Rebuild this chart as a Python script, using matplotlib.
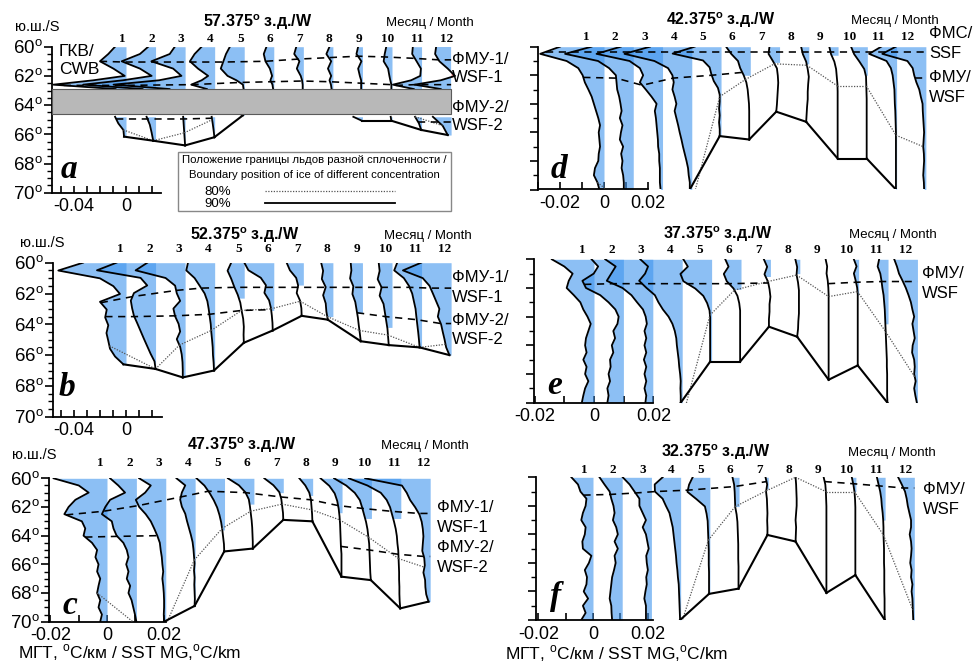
import numpy as np
import matplotlib.pyplot as plt
from matplotlib import transforms, font_manager
from matplotlib.patches import Rectangle
from matplotlib.lines import Line2D

plt.rcParams['font.family'] = ['Liberation Sans', 'DejaVu Sans']
plt.rcParams['mathtext.fontset'] = 'custom'
plt.rcParams['mathtext.rm'] = 'Liberation Sans'
plt.rcParams['mathtext.bf'] = 'Liberation Sans:bold'

nan = np.nan
months = list(range(1, 13))

# ---------------- data: SST meridional gradient, 1e-3 degC/km ----------------
# panel a (57.375 W): upper part 60..62.9 on a_top_lat, lower part below the gap
a_top_lat = [60, 60.5, 61, 61.5, 62, 62.3, 62.6, 62.9]
a_top = [[-8.4, -13.6, -20.0, -9.7, -1.0, -25.0, -55.8, -8.0],
         [-5.6, -12.0, -26.0, -12.0, -3.0, -25.0, -55.6, -10.0],
         [-7.9, -11.8, -25.9, -9.2, -2.8, -20.0, -55.0, -12.0],
         [-10.0, -15.4, -19.0, -12.8, -5.0, -10.0, -18.0, -6.0],
         [-11.0, -14.0, -16.0, -18.0, -12.8, -6.0, -1.0, -0.5],
         [-5.6, -7.7, -6.4, -3.0, -1.3, -2.6, -1.0, -0.5],
         [-5.4, -7.0, -3.0, -5.0, -2.0, -1.0, -0.5, -0.5],
         [-2.6, -5.0, -1.3, -3.8, -1.3, -2.6, -1.5, -1.0],
         [-3.3, -4.6, -0.8, -3.3, -2.0, -1.0, -1.0, -1.0],
         [-4.4, -5.6, -6.4, -3.0, -2.0, -1.3, -0.5, -0.5],
         [-6.7, -7.2, -3.8, -0.5, -1.0, -8.0, -22.0, -6.0],
         [-11.5, -12.3, -9.0, -2.6, 3.0, -8.0, -28.0, -8.0]]
a_low = [[-8.4, -5.9, -2.0, -1.5], [-6.9, -4.4, -3.0, -1.8], [-1.5, -1.0, -0.5, 0.0],
         [-2.3, -1.5, -0.8, -0.2], [-3.0, -1.0], None, None, None,
         [-7.0, -0.5], [-1.0, -0.5], [-5.0, -2.0, -0.3], [-14.0, -6.4, -2.6]]
a_low_start = [64.8, 64.8, 64.8, 64.8, 64.62, nan, nan, nan, 64.8, 64.8, 64.8, 64.8]
a_edge = [66.16, 66.44, 66.76, 66.2, 64.7, nan, nan, nan, 65.07, 65.07, 65.7, 66.05]
a_ice80 = [65.7, 66.44, 65.9, 65.0, nan, nan, nan, nan, nan, nan, 64.8, 65.4]
a_f1 = [61.0, 61.05, 61.05, 61.05, 61.05, 61.0, 60.85, 60.75, 60.65, 60.7, 60.8, 60.9]
a_f2 = [62.65, 62.65, 62.65, 62.6, 62.45, 62.4, 62.35, 62.4, 62.5, 62.6, 62.65, 62.6]
a_f3 = [64.95, 64.95, 64.95, 64.9, nan, nan, nan, nan, nan, nan, 65.15, 65.15]
a_gap = (62.92, 64.61)

# panel b (52.375 W): profiles from 60 to the 90 % ice edge
b_mg = [[-33, -52, -20, -9.7, -4.6, -20, -14.8, -16, -13.6, -15, -13.6, -12.3, -8.4, -2.0],
        [-30, -45, -11.5, -6.4, -16.6, -19, -18, -16.6, -14, -11.5, -9, -6.4, -3.8, -0.8, 0],
        [-29, -38, -15, -7.7, -6.4, -3.8, -9, -7.7, -5, -3.8, -6.4, -3.8, -2.6, -2, -1.8, -1.8],
        [-20.5, -21.8, -15.4, -11.5, -7.7, -5.6, -4.6, -3.8, -3, -2.6, -2, -1.5, -1.3, -0.8, -0.5],
        [-10, -12.8, -10, -7.7, -5, -3, -2, -0.8, -0.3, -0.5, -0.3],
        [-22.6, -19.5, -10, -6, -7.2, -3.6, -2.2, -1.5, -1, -0.8],
        [-12.8, -10.3, -5.5, -4, -5.1, -2.5, -1.5, -1.3],
        [-9, -7.5, -8.5, -5.5, -7.5, -5.5, -5, -3.9],
        [-9, -8.5, -9.5, -7, -7.7, -5.5, -4.5, -3.5, -2.8, -2, -1.3],
        [-10.2, -9.5, -11, -8, -9.5, -6.5, -5.5, -4.5, -3.5, -3, -2.5],
        [-18.7, -21, -13.6, -9.7, -7.2, -5.9, -4.6, -4, -3.3, -2.6, -2, -1.5],
        [-23, -37, -21.8, -16.6, -14, -11.5, -9, -10.2, -7.7, -6.4, -5, -3.8, -1.3]]
b_edge = [66.6, 66.9, 67.45, 67.0, 65.2, 64.4, 63.45, 63.7, 65.1, 65.35, 65.5, 66.0]
b_fill = [66.6, 66.9, 67.45, 67.0, 62.3, 63.1, 61.45, 63.5, 63.3, 64.2, 65.5, 66.0]
b_ice80 = [65.4, 66.9, 65.35, 64.4, 63.1, 63.0, 62.5, 63.5, 64.4, 64.7, 65.5, 65.3]
b_f1 = [62.6, 62.2, 61.8, 61.65, 61.6, 61.6, 61.6, 61.6, 61.6, 61.6, 61.6, 61.65]
b_f2 = [63.5, 63.5, 63.45, 63.35, 63.1, 63.05, nan, nan, 63.25, 63.5, 63.7, 63.95]

# panel c (47.375 W)
c_mg = [[-18.9, -10.0, -6.5, -11.2, -13.6, -15.1, -8.9, -7.7, -8.3, -5.3, -3.5, -4.1, -3.0, -3.5, -2.4, -3.0, -3.5, -2.4, -3.0, -1.8, -2.4],
        [-9.3, -6.4, -4.0, -9.3, -11.0, -12.2, -8.7, -8.1, -7.0, -4.6, -3.4, -2.8, -3.6, -2.8, -3.4, -2.2, -2.8, -1.7, -1.1, -0.5, 0.0],
        [-9.4, -5.3, -7.3, -10.6, -9.4, -7.1, -5.3, -4.1, -3.0, -2.1, -1.8, -1.4, -1.2, -0.9, -1.2, -0.9, -0.7, -0.6, -0.6, -0.7, -0.6],
        [-6.6, -3.5, -4.7, -5.3, -4.7, -3.5, -2.9, -2.2, -1.5, -0.9, -0.6, -0.4, -0.2, -0.4, -0.2, -0.3, -0.2, -0.1, -0.2],
        [-9.9, -7.1, -5.3, -3.8, -2.6, -1.8, -1.2, -0.8, -0.5, -0.2, -0.1],
        [-9.2, -5.3, -3.0, -1.8, -1.4, -1.1, -0.8, -0.6, -0.5, -0.4, -0.4],
        [-6.7, -3.5, -1.4, -0.7, -0.4, -0.1, 0.0],
        [-4.7, -2.6, -1.2, -0.6, -0.4, -0.2, -0.1],
        [-7.6, -4.5, -2.6, -1.7, -1.2, -0.9, -0.7, -0.6, -0.5, -0.4, -0.2, -0.2, -0.2, -0.2],
        [-13.2, -8.9, -5.9, -4.1, -3.3, -2.6, -1.9, -1.4, -1.1, -0.8, -0.7, -0.6, -0.5, -0.4, -0.2],
        [-18.4, -11.8, -7.1, -5.0, -3.8, -3.1, -2.4, -1.8, -1.4, -1.2, -0.9, -0.8, -0.7, -0.6, -0.6, -0.5, -0.5, -0.4, -0.2],
        [-23.0, -10.0, -8.3, -7.1, -5.3, -3.8, -3.0, -2.6, -2.4, -2.6, -2.8, -2.1, -1.9, -2.4, -1.8, -1.7, -1.4, -0.6]]
c_edge = [70, 70, 70, 68.9, 65.1, 64.9, 62.9, 63.0, 66.86, 67.1, 69.07, 68.6]
c_fill = [70, 70, 70, 68.9, 63.6, 61.8, 61.0, 61.2, 62.4, 62.8, 62.8, 68.6]
c_ice80 = [68.0, 70.2, 70.5, 65.7, 63.5, 62.3, 61.8, 62.2, 62.9, 64.1, 65.6, 66.2]
c_f1 = [62.55, 62.3, 61.9, 61.3, 60.9, 61.0, 61.3, 61.5, 61.9, 62.1, 62.3, 62.45]
c_f2 = [64.1, 64.05, 64.0, nan, nan, nan, nan, nan, 64.75, 65.0, 65.3, 65.45]

# panel d (42.375 W)
d_mg = [[-20, -29, -17, -11.7, -9.7, -8.7, -7.1, -5.6, -4.6, -3.6, -2.6, -1.8, -2.4, -2.1, -1.8, -2.4, -2.6, -4.1, -4.6, -3.0, -2.1],
        [-19, -31, -16, -11, -7.9, -7.6, -7.3, -6.4, -5.8, -5.3, -6.1, -4.9, -5.6, -6.1, -4.6, -5.5, -4.9, -5.3, -4.6, -4.3, -4.3],
        [-19, -30, -15, -10.3, -8.8, -10.3, -7.6, -5.0, -2.7, -3.5, -3.0, -2.7, -2.4, -2.1, -2.0, -1.5, -1.5, -1.2, -1.2, -1.2, -0.9],
        [-19, -30.6, -17, -10.8, -8.8, -8.2, -8.8, -7.8, -7.0, -7.8, -7.0, -6.2, -5.5, -4.7, -4.0, -3.2, -2.4, -1.7, -1.4, -0.9, -0.9],
        [-12, -22, -8.2, -5.2, -4.4, -3.3, -1.4, -0.6, -0.6, -0.9, -0.6, -0.9, -0.6, -0.6],
        [-11, -8.7, -5.6, -4.6, -3.0, -1.8, -1.2, -0.9, -0.6, -0.5, -0.5, -0.5, -0.5, -0.5],
        [-4.6, -5.0, -3.0, -1.2, -0.8, -0.6, -0.8, -1.0, -1.2, -1.5],
        [-3.5, -2.7, -1.2, -0.5, 0, -0.3, -0.5, -0.5, -0.8, -1.0, -1.2],
        [-4.0, -3.2, -1.7, -0.9, -0.6, -0.3, -0.2, -0.2, -0.2, -0.2, -0.2, -0.2, -0.2, -0.2, -0.2, -0.2],
        [-7.4, -6.0, -3.6, -1.4, -0.6, -0.5, -0.4, -0.3, -0.3, -0.3, -0.3, -0.3, -0.3, -0.3, -0.3, -0.3],
        [-7.0, -12.5, -4.6, -2.6, -1.8, -1.4, -1.0, -0.9, -0.8, -0.6, -0.5, -0.4, -0.3, -0.3, -0.3, -0.3, -0.3, -0.3, -0.3, -0.3, -0.3],
        [-13.7, -19.8, -8.4, -6.0, -5.3, -4.3, -3.0, -2.3, -1.5, -1.4, -1.2, -1.0, -0.8, -1.0, -1.2, -0.9, -0.8, -1.0, -1.2, -0.9, -0.8]]
d_edge = [70, 70, 70, 70, 66.26, 66.5, 64.55, 65.26, 67.83, 67.83, 70, 70]
d_fill = [70, 70, 70, 70, 66.26, 62.0, 61.1, 61.2, 60.6, 62.0, 70, 70]
d_ice80 = [69.5, 71, 72, 71.5, 63.5, 62.3, 61.2, 61.3, 62.75, 62.75, 66.2, 67.0]
d_f1 = [60.35] * 12
d_f2 = [62.15, 62.2, 62.7, 62.2, 62.0, 61.8, nan, nan, nan, nan, nan, 62.2]

# panel e (37.375 W)
e_mg = [[-14.2, -10.0, -7.2, -8.5, -9.2, -6.8, -4.6, -3.6, -2.2, -1.1, -1.9, -2.7, -3.0, -2.5, -3.6, -2.5, -3.0, -1.9, -3.0, -3.6, -4.1],
        [-10.7, -8.5, -10.0, -13.8, -12.6, -7.8, -5.0, -2.7, -1.6, -2.0, -3.4, -2.8, -3.9, -3.4, -4.5, -4.3, -5.0, -4.5, -5.4, -5.0, -5.4],
        [-16.0, -12.5, -14.0, -15.5, -10.2, -7.2, -5.3, -3.3, -2.4, -2.0, -2.8, -2.2, -2.8, -2.2, -3.0, -2.2, -2.8, -2.2, -2.8, -2.2, -2.5],
        [-14.1, -11.5, -12.5, -14.5, -12.0, -9.2, -8.0, -6.5, -4.6, -3.3, -2.5, -2.0, -1.8, -1.5, -1.2, -1.0, -0.7, -0.5, -0.6, -0.5, -0.5],
        [-9.5, -8.0, -10.5, -9.5, -5.5, -2.8, -1.5, -0.7, -0.5, -0.5, -0.5, -0.5, -0.5, -0.5, -0.5],
        [-5.3, -4.2, -5.8, -4.8, -2.5, -1.2, -0.6, -0.3, -0.3, -0.3, -0.3, -0.3, -0.3, -0.3, -0.3],
        [-2.2, -1.1, -2.0, -0.8, -0.3, 0.0, -0.3, -0.3, -0.5, -0.5],
        [-1.5, -0.9, -1.1, -0.6, -0.3, -0.3, -0.3, -0.3, -0.5, -0.6, -0.9],
        [-1.2, -0.7, -0.9, -0.5, -0.3, -0.2, -0.2, -0.2, -0.2, -0.2, -0.2, -0.2, -0.2, -0.2, -0.2, -0.2, -0.2, -0.2],
        [-1.6, -0.7, -1.6, -1.0, -0.5, -0.3, -0.3, -0.3, -0.3, -0.3, -0.3, -0.3, -0.3, -0.3, -0.3, -0.3],
        [-3.0, -3.5, -2.6, -2.2, -1.9, -1.5, -1.3, -1.1, -1.0, -0.9, -0.8, -0.7, -0.6, -0.5, -0.4, -0.4, -0.3, -0.3, -0.3, -0.3, -0.2],
        [-7.8, -6.9, -6.2, -5.0, -3.9, -3.0, -2.2, -1.7, -1.1, -1.7, -1.3, -0.9, -1.6, -1.8, -1.1, -0.9, -1.1, -0.6, -1.1, -0.7, -0.2]]
e_edge = [70, 70, 70, 70, 67.14, 67.14, 64.7, 65.4, 68.4, 67.4, 70, 70]
e_fill = [70, 70, 70, 70, 67.14, 62.1, 61.2, 61.0, 60.0, 62.5, 64.5, 70]
e_ice80 = [nan, nan, nan, 71.5, 63.9, 62.15, 61.55, 61.1, 62.6, 62.25, 65.05, 68.2]
e_f1 = [nan, 61.75, 61.7, 61.7, 61.7, 61.7, 61.65, nan, 61.7, 61.6, 61.55, 61.55]

# panel f (32.375 W)
f_mg = [[-7.9, -5.5, -4.6, -2.4, -2.7, -3.7, -4.3, -2.7, -3.0, -3.9, -3.7, -0.6, -1.5, -3.0, -2.2, -2.4, -3.4, -1.8, -3.7, -2.7, -4.3],
        [-8.3, -6.5, -4.6, -4.0, -3.2, -2.8, -3.4, -2.2, -1.6, -2.8, -1.6, -2.8, -2.4, -3.0, -3.7, -4.0, -4.3, -4.6, -4.0, -3.9, -3.7],
        [-10.5, -8.0, -6.2, -4.4, -4.4, -3.2, -2.0, -3.2, -2.0, -1.5, -1.0, -1.9, -1.7, -1.3, -1.9, -1.7, -2.2, -2.6, -2.0, -2.0, -2.0],
        [-6.6, -9.5, -9.4, -6.6, -5.4, -4.1, -3.5, -2.9, -2.6, -2.3, -2.0, -1.7, -1.5, -1.2, -1.0, -0.7, -0.6, -0.5, -0.4, -0.3, -0.2],
        [-6.3, -7.6, -8.2, -4.9, -1.8, -1.2, -0.8, -0.7, -0.6, -0.5, -0.4, -0.4, -0.4, -0.3, -0.3, -0.3, -0.3],
        [-2.4, -1.8, -1.6, -1.5, -1.4, -0.9, -0.6, -0.5, -0.4, -0.3, -0.3, -0.3, -0.2, -0.2, -0.2, -0.2],
        [-1.0, -0.4, -0.8, -0.5, -0.4, -0.3, -0.4, -0.3, -0.3],
        [-0.7, -0.5, -0.4, -0.3, -0.3, -0.5, -0.7, -0.5, -0.6, -0.7],
        [-1.1, -0.5, -0.3, -0.2, -0.1, -0.1, -0.1, -0.1, -0.1, -0.1, -0.1, -0.1, -0.1, -0.1, -0.1, -0.1, -0.1],
        [-1.5, -0.9, -0.5, -0.3, -0.2, -0.2, -0.2, -0.2, -0.2, -0.2, -0.2, -0.2, -0.2, -0.2],
        [-3.0, -2.4, -1.8, -1.4, -1.2, -0.9, -0.7, -0.6, -0.6, -0.5, -0.4, -0.4, -0.4, -0.3, -0.3, -0.3, -0.3, -0.2, -0.2, -0.2, -0.1],
        [-5.9, -4.6, -3.4, -2.8, -2.4, -1.8, -1.2, -1.2, -1.7, -1.2, -1.0, -1.2, -1.5, -1.0, -1.2, -0.7, -1.0, -0.7, -0.6, -0.5, -0.4]]
f_edge = [70, 70, 70, 70, 68.17, 67.8, 64.04, 64.5, 68.1, 66.85, 70, 70]
f_fill = [70, 70, 70, 70, 68.17, 62.05, 60.8, 60.0, 60.0, 61.0, 63.0, 70]
f_ice80 = [nan, nan, nan, 70.5, 64.4, 62.05, 60.95, 60.0, 61.0, 61.0, 64.05, 69.3]
f_f1 = [61.25, 61.2, 61.1, 61.0, 60.9, 60.65, 60.3, nan, 60.3, 60.45, 60.6, 60.75]

# ---------------- drawing ----------------
W, H = 976, 666
fig = plt.figure(figsize=(W / 100, H / 100), dpi=100)
BLUE = '#3f95ee'
RED = '#f08080'
names = {f.name for f in font_manager.fontManager.ttflist}
NARROW = 'Liberation Sans Narrow' if 'Liberation Sans Narrow' in names else 'Liberation Sans'


def fx(px):
    return px / W


def fy(py):
    return 1 - py / H


def ftext(x, y, s, **kw):
    kw.setdefault('va', 'center')
    kw.setdefault('ha', 'left')
    return fig.text(fx(x), fy(y), s, **kw)


def plain_segs(prof, edge):
    return [[(np.linspace(60, e, len(v)), np.asarray(v, float))] for v, e in zip(prof, edge)]


def curve_x(segs, base, lat):
    best = None
    for lats, vals in segs:
        if lats[0] <= lat <= lats[-1]:
            return base + np.interp(lat, lats, vals) * 1e-3
        for ll, vv in ((lats[0], vals[0]), (lats[-1], vals[-1])):
            if best is None or abs(lat - ll) < best[0]:
                best = (abs(lat - ll), base + vv * 1e-3)
    return best[1]


def make_axes(spine, right, y60, y70, b1, pxper):
    ax = fig.add_axes([fx(spine), fy(y70), fx(right - spine), (y70 - y60) / H])
    ax.set_xlim((spine - b1) / pxper * 1e-3, (right - b1) / pxper * 1e-3)
    ax.set_ylim(70, 60)
    ax.patch.set_alpha(0)
    for s in ('top', 'right'):
        ax.spines[s].set_visible(False)
    for s in ('left', 'bottom'):
        ax.spines[s].set_linewidth(1.3)
    return ax


def draw_profiles(ax, segs_all, step, fill_end):
    for m, segs in enumerate(segs_all):
        base = m * step
        for lats, vals in segs:
            x = base + vals * 1e-3
            ax.plot(x, lats, color='k', lw=1.3, zorder=4)
            fe = min(fill_end[m], lats[-1])
            if fe <= lats[0]:
                continue
            lf = np.append(lats[lats < fe], fe)
            xf = np.interp(lf, lats, x)
            ax.fill_betweenx(lf, xf, base, where=xf <= base, interpolate=True,
                             color=BLUE, alpha=0.6, lw=0, zorder=2)
            ax.fill_betweenx(lf, xf, base, where=xf >= base, interpolate=True,
                             color=RED, lw=0, zorder=2)


def ice_line(ax, segs_all, step, lats, **kw):
    pts = []
    for m, lat in enumerate(lats):
        if np.isnan(lat) or not segs_all[m]:
            pts.append(None)
        else:
            pts.append((curve_x(segs_all[m], m * step, lat), lat))
    for p, q in zip(pts[:-1], pts[1:]):
        if p is None or q is None or min(p[1], q[1]) >= 70:
            continue
        ax.plot([p[0], q[0]], [p[1], q[1]], zorder=5, **kw)


def front(ax, segs_all, step, lats):
    runs, xs, ys = [], [], []
    for m, lat in enumerate(lats):
        if np.isnan(lat):
            if xs:
                runs.append((xs, ys))
            xs, ys = [], []
            continue
        xs.append(curve_x(segs_all[m], m * step, lat))
        ys.append(lat)
    if xs:
        xs.append(11 * step)
        ys.append(ys[-1])
        runs.append((xs, ys))
    for xx, yy in runs:
        ax.plot(xx, yy, color='k', lw=1.15, ls=(0, (4.5, 3.5)), zorder=6)


def finish(ax, ticks, labelled, xbr, minor, ylab, label_y, label_off, step, pxper):
    xl = ax.get_xlim()[0]
    ax.spines['bottom'].set_bounds(xl, xbr)
    ax.set_xticks(ticks)
    ax.set_xticklabels([labelled.get(round(t, 2), '') for t in ticks])
    ax.tick_params(axis='x', direction='in', length=5, width=1.2, labelsize=13, pad=4)
    ax.set_yticks(np.arange(60, 71, 2))
    ax.set_yticks(np.arange(60, 70.01, minor), minor=True)
    ax.tick_params(axis='y', which='major', direction='out', length=6, width=1.2, labelsize=13.5, pad=1)
    ax.tick_params(axis='y', which='minor', direction='out', length=3.5, width=1.0)
    if ylab:
        ax.set_yticklabels([f'{v}$^{{\\mathregular{{o}}}}$' for v in range(60, 71, 2)])
    else:
        ax.set_yticklabels([])
    tr = transforms.blended_transform_factory(ax.transData, fig.transFigure)
    for m in months:
        ax.text((m - 1) * step + label_off / pxper * 1e-3, fy(label_y), str(m), transform=tr,
                ha='center', va='center', family='Liberation Serif', weight='bold', fontsize=9.5)


def headers(tx, ty, lon, mx, sx, sy):
    ftext(tx, ty, lon + '$^{\\mathbf{o}}$ з.д./W', ha='center', fontsize=11.5, weight='bold')
    ftext(mx, ty + 1, 'Месяц / Month', ha='center', fontsize=9.5)
    if sx is not None:
        ftext(sx, sy, 'ю.ш./S', ha='center', fontsize=10.5)


def side(x, items):
    for y, s in items:
        ftext(x, y, s, fontsize=12)


def letter(x, y, s):
    ftext(x, y, s, ha='center', family='Liberation Serif', style='italic', weight='bold', fontsize=24)


def xlab(x, y):
    ftext(x, y, 'МГТ, $^{\\mathregular{o}}$C/км / SST MG,$^{\\mathregular{o}}$C/km', fontsize=12.5)


dotted = dict(color='#555555', lw=0.9, ls=(0, (1, 1.2)))
solid = dict(color='k', lw=1.5)
ticks_ab = np.round(np.arange(-0.05, 0.021, 0.01), 2)
ticks_cef = np.round(np.arange(-0.02, 0.021, 0.01), 2)
ticks_d = np.round(np.arange(-0.03, 0.021, 0.01), 2)
lab_ab = {-0.04: '-0.04', 0.0: '0'}
lab_2 = {-0.02: '-0.02', 0.0: '0', 0.02: '0.02'}

# ---- panel a ----
pa, sa = 1.302, 22.7e-3
segs_a = []
for m in range(12):
    s = [(np.array(a_top_lat, float), np.asarray(a_top[m], float))]
    if a_low[m] is not None:
        s.append((np.linspace(a_low_start[m], a_edge[m], len(a_low[m])), np.asarray(a_low[m], float)))
    segs_a.append(s)
ax = make_axes(52, 458, 46.7, 192.7, 126, pa)
draw_profiles(ax, segs_a, sa, [70] * 12)
xl = ax.get_xlim()[0]
ax.add_patch(Rectangle((xl, a_gap[0]), 11 * sa - xl, a_gap[1] - a_gap[0], fc='#b8b8b8',
                       ec='#5a5a5a', lw=0.8, zorder=7))
ice_line(ax, segs_a, sa, a_ice80, **dotted)
ice_line(ax, segs_a, sa, a_edge, **solid)
for fr in (a_f1, a_f2, a_f3):
    front(ax, segs_a, sa, fr)
finish(ax, ticks_ab, lab_ab, 0.027, 0.5, True, 39, -4, sa, pa)
headers(258, 22, '57.375', 430, 37, 27)
ftext(59, 51, 'ГКВ/', fontsize=12.5)
ftext(59, 69, 'CWB', fontsize=12.5)
side(452, [(59, 'ФМУ-1/'), (78, 'WSF-1'), (108, 'ФМУ-2/'), (126, 'WSF-2')])
letter(69, 170, 'a')
# legend box
fig.add_artist(Rectangle((fx(178), fy(211)), fx(451 - 178), (211 - 152) / H, transform=fig.transFigure,
                         fc='white', ec='#888888', lw=1.0, zorder=10))
ftext(314, 160, 'Положение границы льдов разной сплоченности /', ha='center', fontsize=8.2,
      family=NARROW, zorder=11)
ftext(314, 175, 'Boundary position of ice of different concentration', ha='center', fontsize=8.2,
      family=NARROW, zorder=11)
ftext(218, 192, '80%', ha='center', fontsize=9.5, zorder=11)
ftext(218, 204, '90%', ha='center', fontsize=9.5, zorder=11)
fig.add_artist(Line2D([fx(265), fx(395)], [fy(191), fy(191)], transform=fig.transFigure, zorder=11, **dotted))
fig.add_artist(Line2D([fx(265), fx(395)], [fy(203), fy(203)], transform=fig.transFigure, zorder=11,
                      color='k', lw=1.3))

# ---- panel b ----
segs_b = plain_segs(b_mg, b_edge)
ax = make_axes(53, 458, 262.7, 416.7, 126, pa)
draw_profiles(ax, segs_b, sa, b_fill)
ice_line(ax, segs_b, sa, b_ice80, **dotted)
ice_line(ax, segs_b, sa, b_edge, **solid)
for fr in (b_f1, b_f2):
    front(ax, segs_b, sa, fr)
finish(ax, ticks_ab, lab_ab, 0.028, 0.5, True, 249, -6, sa, pa)
headers(245, 235, '52.375', 428, 42, 243)
side(452, [(278, 'ФМУ-1/'), (298, 'WSF-1'), (320, 'ФМУ-2/'), (340, 'WSF-2')])
letter(67, 388, 'b')

# ---- panel c ----
pc, sc = 2.825, 10.4e-3
segs_c = plain_segs(c_mg, c_edge)
ax = make_axes(49, 458, 478.3, 621.7, 107, pc)
draw_profiles(ax, segs_c, sc, c_fill)
ice_line(ax, segs_c, sc, c_ice80, **dotted)
ice_line(ax, segs_c, sc, c_edge, **solid)
for fr in (c_f1, c_f2):
    front(ax, segs_c, sc, fr)
finish(ax, ticks_cef, lab_2, 0.021, 0.5, True, 463, -7, sc, pc)
headers(242, 445, '47.375', 425, 34, 455)
side(437, [(508, 'ФМУ-1/'), (527, 'WSF-1'), (548, 'ФМУ-2/'), (568, 'WSF-2')])
letter(70, 605, 'c')
xlab(18, 653)

# ---- panel d ----
pd_, sd = 2.2, 13.3e-3
segs_d = plain_segs(d_mg, d_edge)
ax = make_axes(538, 935, 46.7, 189.5, 604, pd_)
draw_profiles(ax, segs_d, sd, d_fill)
ice_line(ax, segs_d, sd, d_ice80, **dotted)
ice_line(ax, segs_d, sd, d_edge, **solid)
for fr in (d_f1, d_f2):
    front(ax, segs_d, sd, fr)
finish(ax, ticks_d, lab_2, 0.02, 1.0, False, 37, -18, sd, pd_)
headers(721, 20, '42.375', 895, None, None)
side(929, [(34, 'ФМС/'), (54, 'SSF'), (78, 'ФМУ/'), (97, 'WSF')])
letter(559, 170, 'd')

# ---- panel e ----
pe, se = 2.97, 9.9e-3
segs_e = plain_segs(e_mg, e_edge)
ax = make_axes(534, 935, 259.3, 402.7, 594, pe)
draw_profiles(ax, segs_e, se, e_fill)
ice_line(ax, segs_e, se, e_ice80, **dotted)
ice_line(ax, segs_e, se, e_edge, **solid)
front(ax, segs_e, se, e_f1)
finish(ax, ticks_cef, lab_2, 0.02, 1.0, False, 250, -12, se, pe)
headers(718, 234, '37.375', 893, None, None)
side(922, [(273, 'ФМУ/'), (293, 'WSF')])
letter(555, 385, 'e')

# ---- panel f ----
pf, sf = 2.73, 10.7e-3
segs_f = plain_segs(f_mg, f_edge)
ax = make_axes(536, 935, 477.3, 620, 593, pf)
draw_profiles(ax, segs_f, sf, f_fill)
ice_line(ax, segs_f, sf, f_ice80, **dotted)
ice_line(ax, segs_f, sf, f_edge, **solid)
front(ax, segs_f, sf, f_f1)
finish(ax, ticks_cef, lab_2, 0.022, 1.0, False, 470, -9, sf, pf)
headers(716, 452, '32.375', 892, None, None)
side(923, [(490, 'ФМУ/'), (510, 'WSF')])
letter(556, 597, 'f')
xlab(505, 654)

fig.savefig('out.png', dpi=100)
